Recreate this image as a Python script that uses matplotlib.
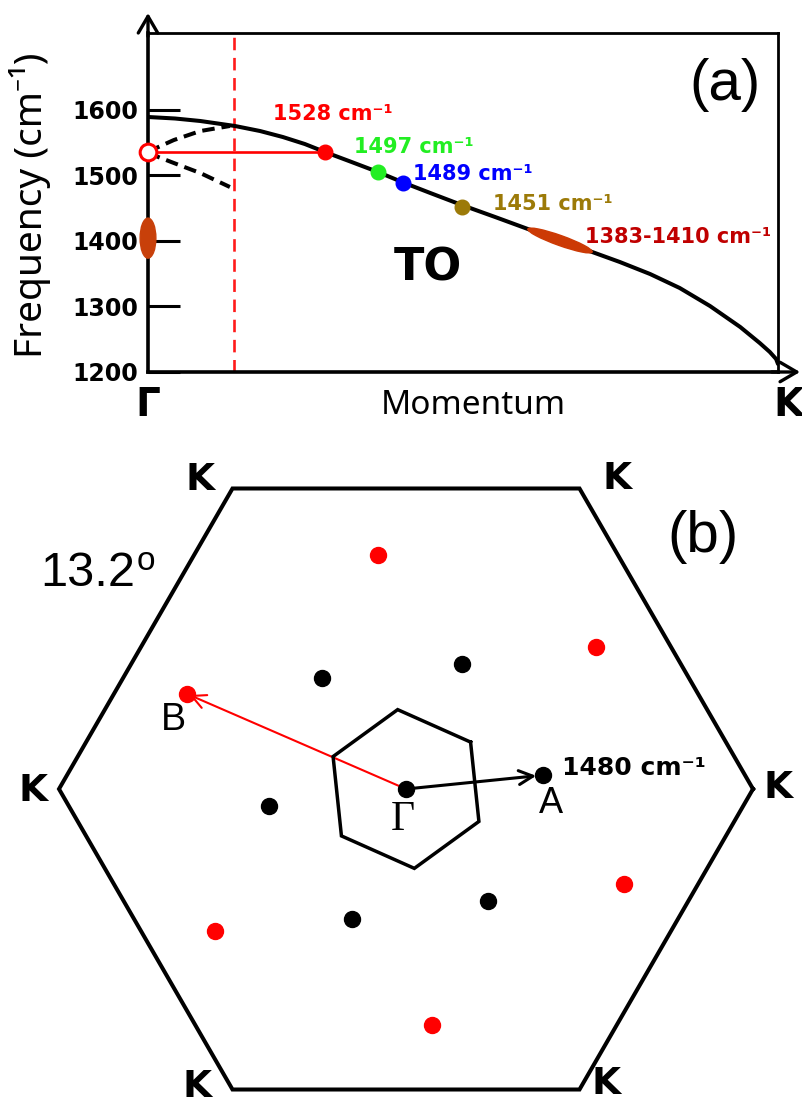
import numpy as np
import matplotlib
matplotlib.use("Agg")
import matplotlib.pyplot as plt
from matplotlib.patches import Ellipse
from matplotlib.transforms import IdentityTransform

plt.rcParams['lines.scale_dashes'] = False

# ---- panel (a): TO phonon branch from Gamma to K ----
momentum = [0.000, 0.043, 0.083, 0.138, 0.178, 0.214, 0.249, 0.281, 0.321, 0.365,
            0.405, 0.448, 0.498, 0.551, 0.603, 0.654, 0.705, 0.749, 0.797, 0.844,
            0.892, 0.940, 0.971, 0.987, 0.997, 1.000]
freq_TO = [1588.6, 1586.3, 1582.5, 1574.9, 1567.2, 1558.1, 1547.4, 1535.2, 1520.8, 1504.8,
           1488.8, 1472.8, 1454.5, 1436.2, 1417.9, 1400.4, 1382.9, 1367.6, 1349.3, 1328.0,
           1300.6, 1268.6, 1244.2, 1230.5, 1219.8, 1212.2]

# folded (dashed) branches near Gamma
fold_q = [0.000, 0.041, 0.083, 0.130]
fold_upper = [1535.7, 1553.5, 1567.2, 1574.9]
fold_lower = [1533.7, 1518.5, 1503.2, 1481.9]

mbz_edge = 0.1365  # red dashed line (mini-BZ boundary)

# marked modes on the branch
mode_q = [0.281, 0.365, 0.405, 0.498]
mode_f = [1535.2, 1504.8, 1488.0, 1451.4]
mode_colors = ['#ff0000', '#22ee22', '#0000ff', '#9c7a08']
mode_labels = ['1528 cm⁻¹', '1497 cm⁻¹', '1489 cm⁻¹', '1451 cm⁻¹']
label_pos = [(0.198, 1584.0), (0.327, 1533.7), (0.421, 1492.6), (0.548, 1446.9)]

band_q = (0.603, 0.705)
band_f = (1417.9, 1382.9)
band_label = '1383-1410 cm⁻¹'

yticks = [1200, 1300, 1400, 1500, 1600]

# ---- panel (b): Brillouin zones, 13.2 deg ----
K_radius = 1.0
mini_radius = 0.23
mini_rot = 36.0
black_x = [-0.242, 0.161, -0.395, 0.395, -0.156, 0.236, 0.0]
black_y = [0.320, 0.360, -0.049, 0.040, -0.375, -0.323, 0.0]
red_x = [-0.081, 0.548, -0.631, -0.550, 0.628, 0.075]
red_y = [0.674, 0.409, 0.274, -0.409, -0.274, -0.680]
point_A = (0.395, 0.040)
point_B = (-0.631, 0.274)

bold = dict(family='DejaVu Sans', fontweight='bold')
reg = dict(family=['Noto Sans', 'DejaVu Sans'])
arial = dict(family=['Liberation Sans', 'DejaVu Sans'])

fig = plt.figure(figsize=(8.03, 11.05), dpi=100)

# ================= panel (a) =================
W, H = 803, 1105
ax = fig.add_axes([148 / W, 1 - 372 / H, 630 / W, 339 / H])
ax.set_xlim(0, 1)
ax.set_ylim(1200, 1716.6)
ax.set_xticks([])
ax.set_yticks(yticks)
ax.set_yticklabels([str(t) for t in yticks], fontsize=17, **bold)
ax.tick_params(axis='y', direction='in', length=23, width=2.2, pad=7)
for s in ['left', 'bottom']:
    ax.spines[s].set_linewidth(2.6)
for s in ['top', 'right']:
    ax.spines[s].set_linewidth(2.0)

# axis arrows
ax.annotate('', xy=(0, 1.059), xytext=(0, 0.99), xycoords='axes fraction',
            arrowprops=dict(arrowstyle='->,head_length=0.6,head_width=0.35', lw=2.4,
                            color='k', shrinkA=0, shrinkB=0, mutation_scale=20),
            annotation_clip=False)
ax.annotate('', xy=(1.035, 0), xytext=(0.99, 0), xycoords='axes fraction',
            arrowprops=dict(arrowstyle='->,head_length=0.6,head_width=0.35', lw=2.4,
                            color='k', shrinkA=0, shrinkB=0, mutation_scale=20),
            annotation_clip=False)

ax.axvline(mbz_edge, color='#ff1a1a', lw=1.9, dashes=(9, 5.5), zorder=2)
ax.plot(momentum, freq_TO, color='k', lw=2.9, zorder=3, solid_capstyle='round')
ax.plot(fold_q, fold_upper, color='k', lw=2.9, dashes=(9, 5), zorder=3)
ax.plot(fold_q, fold_lower, color='k', lw=2.9, dashes=(9, 5), zorder=3)

# red line from Gamma to 1528 mode
ax.plot([0, mode_q[0]], [mode_f[0], mode_f[0]], color='#ff0000', lw=1.9, zorder=3)
ax.plot([0], [mode_f[0]], 'o', ms=12, mfc='white', mec='#ff0000', mew=2.2,
        zorder=6, clip_on=False)

for q, f, c in zip(mode_q, mode_f, mode_colors):
    ax.plot(q, f, 'o', ms=10.5, color=c, zorder=5)
for (lx, ly), t, c in zip(label_pos, mode_labels, mode_colors):
    ax.text(lx, ly, t, color=c, fontsize=15, va='baseline', ha='left', **bold)

# band highlight on the curve
fig.canvas.draw()
p0 = ax.transData.transform((band_q[0], band_f[0]))
p1 = ax.transData.transform((band_q[1], band_f[1]))
ctr = (p0 + p1) / 2
ang = np.degrees(np.arctan2(p1[1] - p0[1], p1[0] - p0[0]))
ln = np.hypot(*(p1 - p0))
ax.add_patch(Ellipse(ctr, ln, 10, angle=ang, transform=IdentityTransform(),
                     color='#cc3a05', zorder=4))
ax.text(0.694, 1396.6, band_label, color='#c00000', fontsize=15, va='baseline',
        ha='left', **bold)

# ellipse on frequency axis
ax.add_patch(Ellipse((0, 1404), 0.025, 61, color='#c8400a', zorder=6, clip_on=False))

ax.text(0.444, 1358.5, 'TO', fontsize=32, ha='center', va='center', **bold)
ax.text(0.916, 1637.3, '(a)', fontsize=42, ha='center', va='center', **arial)

fig.text(30 / W, 1 - 205 / H, 'Frequency (cm⁻¹)', rotation=90, fontsize=28,
         ha='center', va='center', **reg)
fig.text(148 / W, 1 - 405 / H, 'Γ', fontsize=28, ha='center', va='center', **bold)
fig.text(473 / W, 1 - 405 / H, 'Momentum', fontsize=24, ha='center', va='center', **reg)
fig.text(788 / W, 1 - 405 / H, 'K', fontsize=28, ha='center', va='center', **bold)

# ================= panel (b) =================
sc = 347.0
bx = fig.add_axes([0, 0, 1, 665 / H])
bx.set_xlim(-406 / sc, (W - 406) / sc)
bx.set_ylim((789 - H) / sc, (789 - 440) / sc)
bx.axis('off')

ang_big = np.radians(np.arange(0, 420, 60))
bx.plot(K_radius * np.cos(ang_big), K_radius * np.sin(ang_big), color='k', lw=2.9,
        solid_joinstyle='miter')
ang_small = np.radians(np.arange(0, 420, 60) + mini_rot)
bx.plot(mini_radius * np.cos(ang_small), mini_radius * np.sin(ang_small), color='k',
        lw=2.5, solid_joinstyle='miter', zorder=3)

bx.annotate('', xy=point_B, xytext=(0, 0),
            arrowprops=dict(arrowstyle='->,head_length=0.5,head_width=0.25', lw=1.5,
                            color='#ff0000', shrinkA=0, shrinkB=2, mutation_scale=20),
            zorder=2)
bx.annotate('', xy=point_A, xytext=(0, 0),
            arrowprops=dict(arrowstyle='->,head_length=0.5,head_width=0.25', lw=2.2,
                            color='k', shrinkA=0, shrinkB=5, mutation_scale=20),
            zorder=4)

bx.plot(red_x, red_y, 'o', ms=11.5, color='#ff0000', ls='none', zorder=5)
bx.plot(black_x, black_y, 'o', ms=11.5, color='k', ls='none', zorder=5)

k_pos = [(-0.594, 0.890), (0.608, 0.893), (-1.075, -0.006), (1.072, 0.003),
         (-0.602, -0.860), (0.576, -0.850)]
for kx, ky in k_pos:
    bx.text(kx, ky, 'K', fontsize=27, ha='center', va='center', **bold)

bx.text(-1.055, 0.585, '13.2', fontsize=35, ha='left', va='baseline', **arial)
bx.text(-0.776, 0.631, 'o', fontsize=24, ha='left', va='baseline', **arial)
bx.text(0.856, 0.726, '(b)', fontsize=42, ha='center', va='center', **arial)
bx.text(-0.671, 0.199, 'B', fontsize=27, ha='center', va='center', **arial)
bx.text(0.418, -0.043, 'A', fontsize=26, ha='center', va='center', **arial)
bx.text(-0.009, -0.089, 'Γ', fontsize=30, ha='center', va='center',
        family=['Liberation Serif', 'DejaVu Serif'])
bx.text(0.450, 0.040, '1480 cm⁻¹', fontsize=18, ha='left', va='baseline', **bold)

fig.savefig('out.png', dpi=100)
